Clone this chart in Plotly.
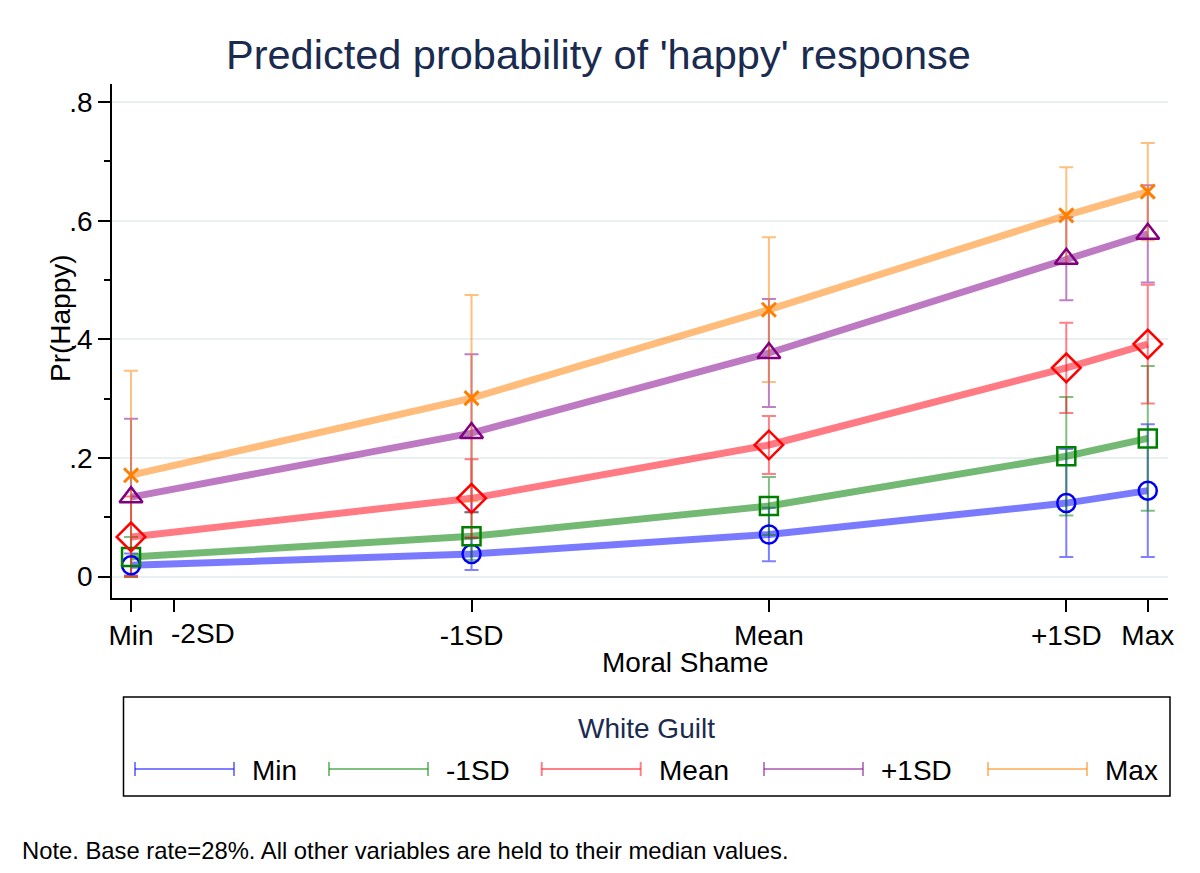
import plotly.graph_objects as go

# ---------------- data ----------------
shame_levels = ["Min", "-1SD", "Mean", "+1SD", "Max"]
shame_sd = [-2.145, -1.0, 0.0, 1.0, 1.274]          # moral shame in SD units
x_tick_vals = [-2.145, -2.0, -1.0, 0.0, 1.0, 1.274]
x_tick_text = ["Min", "-2SD", "-1SD", "Mean", "+1SD", "Max"]
y_tick_vals = [0, 0.2, 0.4, 0.6, 0.8]
y_tick_text = ["0", ".2", ".4", ".6", ".8"]

guilt_levels = ["Min", "-1SD", "Mean", "+1SD", "Max"]

p_guilt_min = [0.019, 0.038, 0.071, 0.124, 0.145]
lo_guilt_min = [0.000, 0.011, 0.026, 0.033, 0.033]
hi_guilt_min = [0.039, 0.065, 0.116, 0.215, 0.257]

p_guilt_m1sd = [0.033, 0.068, 0.119, 0.203, 0.233]
lo_guilt_m1sd = [0.000, 0.028, 0.070, 0.103, 0.111]
hi_guilt_m1sd = [0.067, 0.108, 0.168, 0.303, 0.355]

p_guilt_mean = [0.067, 0.132, 0.222, 0.352, 0.392]
lo_guilt_mean = [0.000, 0.066, 0.173, 0.276, 0.292]
hi_guilt_mean = [0.135, 0.198, 0.271, 0.428, 0.492]

p_guilt_p1sd = [0.134, 0.242, 0.377, 0.536, 0.578]
lo_guilt_p1sd = [0.002, 0.109, 0.286, 0.466, 0.496]
hi_guilt_p1sd = [0.266, 0.375, 0.468, 0.606, 0.660]

p_guilt_max = [0.171, 0.301, 0.450, 0.609, 0.649]
lo_guilt_max = [0.000, 0.127, 0.328, 0.528, 0.567]
hi_guilt_max = [0.347, 0.475, 0.572, 0.690, 0.731]

series_p = [p_guilt_min, p_guilt_m1sd, p_guilt_mean, p_guilt_p1sd, p_guilt_max]
series_lo = [lo_guilt_min, lo_guilt_m1sd, lo_guilt_mean, lo_guilt_p1sd, lo_guilt_max]
series_hi = [hi_guilt_min, hi_guilt_m1sd, hi_guilt_mean, hi_guilt_p1sd, hi_guilt_max]

# ---------------- styles ----------------
line_colors = ["rgba(0,0,255,0.52)", "rgba(0,128,0,0.55)", "rgba(255,0,16,0.52)",
               "rgba(128,0,140,0.52)", "rgba(255,127,0,0.52)"]
err_colors = ["rgba(0,0,255,0.5)", "rgba(0,128,0,0.5)", "rgba(255,0,16,0.5)",
              "rgba(128,0,140,0.5)", "rgba(255,127,0,0.5)"]
marker_colors = ["#0000ee", "#008000", "#ff0000", "#800080", "#ff7f00"]
marker_symbols = ["circle-open", "square-open", "diamond-open", "triangle-up-open", "x-thin-open"]
marker_sizes = [18, 18, 22, 20, 14]

FONT = "Helvetica, Arial, Liberation Sans, sans-serif"
NAVY = "#1a2b4f"

OFF = 8  # page body margin
W, H = 1200 - OFF, 873 - OFF
# plot area in page pixels
PL, PR, PT, PB = 112, 1168, 84, 598
L, R, T, B = PL - OFF, PR - OFF, PT - OFF, PB - OFF


def px(xp):
    return (xp - PL) / (PR - PL)


def py(yp):
    return (PB - yp) / (PB - PT)


fig = go.Figure()

for i in range(5):
    p, lo, hi = series_p[i], series_lo[i], series_hi[i]
    fig.add_trace(go.Scatter(
        x=shame_sd, y=p, mode="lines",
        line=dict(color=line_colors[i], width=7),
        error_y=dict(type="data", symmetric=False,
                     array=[h - v for h, v in zip(hi, p)],
                     arrayminus=[v - l for v, l in zip(p, lo)],
                     color=err_colors[i], thickness=2, width=7),
        showlegend=False, hoverinfo="skip"))

for i in range(5):
    fig.add_trace(go.Scatter(
        x=shame_sd, y=series_p[i], mode="markers",
        marker=dict(symbol=marker_symbols[i], size=marker_sizes[i],
                    color=marker_colors[i],
                    line=dict(color=marker_colors[i], width=2.5 if i < 4 else 3)),
        showlegend=False, name=guilt_levels[i]))

fig.update_layout(
    width=W, height=H,
    margin=dict(l=L, r=W - R, t=T, b=H - B, pad=0),
    paper_bgcolor="white", plot_bgcolor="white",
    font=dict(family=FONT, color="black", size=28),
    showlegend=False,
)

# the "-2SD" label sits right of its tick (as in the reference) -> drawn as annotation
x_tick_labels_axis = [t if t != "-2SD" else "" for t in x_tick_text]

fig.update_xaxes(
    range=[-2.209, 1.342], tickmode="array", tickvals=x_tick_vals,
    ticktext=x_tick_labels_axis, tickangle=0,
    showline=True, linecolor="black", linewidth=1.5, ticks="outside", ticklen=12,
    tickwidth=1.5, tickcolor="black", showgrid=False, zeroline=False,
    tickfont=dict(size=28), mirror=False)

fig.update_yaxes(
    range=[-0.036, 0.8305], tickmode="array", tickvals=y_tick_vals, ticktext=y_tick_text,
    showline=True, linecolor="black", linewidth=1.5, ticks="outside", ticklen=12,
    tickwidth=1.5, tickcolor="black", showgrid=True, gridcolor="#e8f0f2", gridwidth=2,
    zeroline=False, tickfont=dict(size=28),
    minor=dict(tickvals=[0.1, 0.3, 0.5, 0.7], ticks="outside", ticklen=6,
               tickcolor="black", tickwidth=1.5, showgrid=False))

annotations = [
    dict(text="Predicted probability of 'happy' response", x=px(598.5), y=py(55),
         font=dict(size=41.5, color=NAVY)),
    dict(text="Pr(Happy)", x=px(60), y=py(318), textangle=-90, font=dict(size=28)),
    dict(text="Moral Shame", x=px(685), y=py(662), font=dict(size=28)),
    dict(text="White Guilt", x=px(646.5), y=py(728), font=dict(size=28, color=NAVY)),
    dict(text="Note. Base rate=28%. All other variables are held to their median values.",
         x=px(20), y=py(850), xanchor="left", font=dict(size=23.8)),
    dict(text="-2SD", x=px(203), y=py(633), font=dict(size=28)),
]
for a in annotations:
    a.setdefault("xanchor", "center")
    a.update(xref="paper", yref="paper", yanchor="middle", showarrow=False)
fig.update_layout(annotations=annotations)

shapes = [dict(type="rect", xref="paper", yref="paper",
               x0=px(123.5), x1=px(1170), y0=py(697), y1=py(796),
               line=dict(color="black", width=1.5), fillcolor="rgba(0,0,0,0)")]

sym_starts = [135, 329, 541.7, 764, 988]
sym_len = 99
leg_y = 769
for i in range(5):
    x0, x1 = sym_starts[i], sym_starts[i] + sym_len
    c = err_colors[i]
    shapes.append(dict(type="line", xref="paper", yref="paper", x0=px(x0), x1=px(x1),
                       y0=py(leg_y), y1=py(leg_y), line=dict(color=c, width=2)))
    for xe in (x0, x1):
        shapes.append(dict(type="line", xref="paper", yref="paper", x0=px(xe), x1=px(xe),
                           y0=py(leg_y - 7), y1=py(leg_y + 7), line=dict(color=c, width=2)))
    fig.add_annotation(text=guilt_levels[i], x=px(x1 + 16), y=py(leg_y + 1), xref="paper",
                       yref="paper", xanchor="left", yanchor="middle", showarrow=False,
                       font=dict(size=28))
fig.update_layout(shapes=shapes)

fig.write_html("out.html")
